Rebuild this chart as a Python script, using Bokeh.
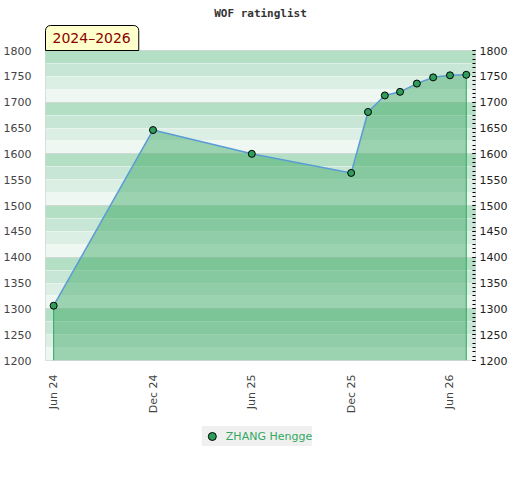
from datetime import datetime
from bokeh.plotting import figure
from bokeh.layouts import column
from bokeh.models import (Range1d, FixedTicker, DatetimeTickFormatter, LinearAxis,
                          SingleIntervalTicker, Title, Legend, LegendItem, ColumnDataSource)
from bokeh.embed import file_html
from bokeh.resources import INLINE
import math

# ---- data ----
dates = ["2024-06-01", "2024-12-01", "2025-06-01", "2025-12-01", "2026-01-01",
         "2026-02-01", "2026-03-01", "2026-04-01", "2026-05-01", "2026-06-01", "2026-07-01"]
ratings = [1306, 1646, 1600, 1563, 1681, 1713, 1720, 1736, 1748, 1752, 1753]
tick_dates = ["2024-06-01", "2024-12-01", "2025-06-01", "2025-12-01", "2026-06-01"]
player = "ZHANG Hengge"
period = "2024\u20132026"
title_text = "WOF ratinglist"
y_min, y_max = 1200, 1800
band_step = 25
band_shades = ["#eef7f1", "#dcefe4", "#c8e6d5", "#b3dfc5"]

def ms(s):
    return datetime.strptime(s, "%Y-%m-%d").timestamp() * 1000.0

xs = [datetime.strptime(d, "%Y-%m-%d") for d in dates]
x_start = datetime(2024, 5, 17)
x_end = datetime(2026, 7, 18)

p = figure(frame_width=430, frame_height=310, output_backend="svg", toolbar_location=None,
           x_axis_type="datetime", title=None,
           x_range=Range1d(x_start, x_end), y_range=Range1d(y_min, y_max),
           min_border_left=37, min_border_right=30, min_border_top=42, min_border_bottom=40)
p.background_fill_color = "white"
p.border_fill_color = "white"
p.outline_line_color = "#d6d6d6"
p.xgrid.grid_line_color = None
p.ygrid.grid_line_color = None

# background bands
bottoms = list(range(y_min, y_max, band_step))
tops = [b + band_step for b in bottoms]
cols = [band_shades[(b - y_min) // band_step % 4] for b in bottoms]
p.hstrip(y0=bottoms, y1=tops, fill_color=cols, line_color=None)
p.hspan(y=[b for b in bottoms if (b - y_min) % 100 != 0], line_color="white", line_alpha=0.35, line_width=1)
p.hspan(y=[b for b in bottoms if (b - y_min) % 100 == 0 and b != y_min], line_color="#cfd8d2", line_width=1)

src = ColumnDataSource(dict(x=xs, y=ratings))
p.varea(x="x", y1=y_min, y2="y", source=src, fill_color="#39a661", fill_alpha=0.46)
p.segment(x0=[xs[0], xs[-1]], y0=[y_min, y_min], x1=[xs[0], xs[-1]], y1=[ratings[0], ratings[-1]],
          line_color="#2fa85e", line_width=1)
p.line(x="x", y="y", source=src, line_color="#5b9bd5", line_width=1.5)
sc = p.scatter(x="x", y="y", source=src, size=7, fill_color="#2e9e5b", line_color="black", line_width=1)

# axes
p.xaxis.ticker = FixedTicker(ticks=[ms(t) for t in tick_dates], minor_ticks=[])
p.xaxis.formatter = DatetimeTickFormatter(months="%b %y", days="%b %y", years="%b %y")
p.xaxis.major_label_orientation = math.pi / 2
p.xaxis.axis_line_color = None
p.xaxis.major_tick_line_color = None
p.xaxis.minor_tick_line_color = None
p.xaxis.major_label_standoff = 8
p.xaxis.major_label_text_font = "DejaVu Sans"
p.xaxis.major_label_text_font_size = "11px"
p.xaxis.major_label_text_color = "#444444"

p.yaxis.ticker = SingleIntervalTicker(interval=50, num_minor_ticks=0)
p.yaxis.axis_line_color = None
p.yaxis.major_tick_line_color = None
p.yaxis.minor_tick_line_color = None
p.yaxis.major_label_standoff = 8
p.yaxis.major_label_text_font = "DejaVu Sans"
p.yaxis.major_label_text_font_size = "11px"
p.yaxis.major_label_text_color = "#444444"

ry = LinearAxis(ticker=SingleIntervalTicker(interval=50, num_minor_ticks=6))
ry.axis_line_color = None
ry.major_tick_in = 3
ry.major_tick_out = 0
ry.minor_tick_in = 3
ry.minor_tick_out = 0
ry.major_tick_line_color = "black"
ry.minor_tick_line_color = "black"
ry.major_label_standoff = 4
ry.major_label_text_font = "DejaVu Sans"
ry.major_label_text_font_size = "11px"
ry.major_label_text_color = "#222222"
p.add_layout(ry, "right")

# period label (closest to the frame) then main title
pt = Title(text=period, align="left", text_font="DejaVu Sans", text_font_size="14px",
           text_font_style="normal", text_color="#8b0000",
           background_fill_color="#ffffcc", border_line_color="black", border_line_width=1,
           padding=dict(left=7, right=8, top=4, bottom=5),
           border_radius=dict(top_left=5, top_right=5, bottom_left=0, bottom_right=0),
           standoff=0, offset=0)
p.add_layout(pt, "above")
mt = Title(text=title_text, align="center", text_font="DejaVu Sans Mono", text_font_size="11px",
           text_font_style="bold", text_color="#333333", standoff=8)
p.add_layout(mt, "above")

# legend in a small strip below (proxy renderer hidden outside its ranges)
q = figure(width=504, height=44, output_backend="svg", toolbar_location=None,
           min_border=0, title=None, x_range=Range1d(0, 1), y_range=Range1d(0, 1))
q.axis.visible = False
q.grid.visible = False
q.outline_line_color = None
q.background_fill_color = "white"
q.border_fill_color = "white"
lr = q.scatter(x="x", y="y", source=src, size=7, fill_color="#2e9e5b", line_color="black", line_width=1)
leg = Legend(items=[LegendItem(label=player, renderers=[lr])], location="top_center",
             orientation="horizontal")
leg.background_fill_color = "#f0f0f0"
leg.background_fill_alpha = 1
leg.border_line_color = None
leg.label_text_color = "#33a862"
leg.label_text_font = "DejaVu Sans"
leg.label_text_font_size = "11px"
leg.glyph_width = 20
leg.glyph_height = 20
leg.label_height = 20
leg.label_standoff = 4
leg.padding = 8
leg.margin = 10
q.add_layout(leg, "center")

open("out.html", "w").write(file_html(column(p, q), INLINE))
